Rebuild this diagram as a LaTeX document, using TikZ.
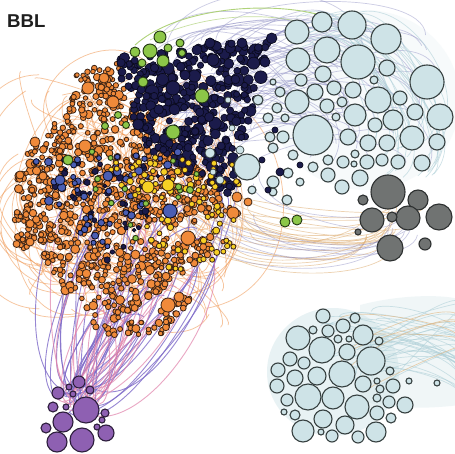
\documentclass[tikz,border=0pt]{standalone}
\usepackage{fontspec}
\setmainfont{Liberation Sans}
\definecolor{ocol}{RGB}{240,138,58}
\definecolor{odraw}{RGB}{60,35,20}
\definecolor{ncol}{RGB}{27,27,75}
\definecolor{ndraw}{RGB}{10,10,30}
\definecolor{lbcol}{RGB}{206,227,231}
\definecolor{lbdraw}{RGB}{55,65,65}
\definecolor{gcol}{RGB}{112,115,114}
\definecolor{gdraw}{RGB}{45,48,48}
\definecolor{pcol}{RGB}{142,96,178}
\definecolor{pdraw}{RGB}{45,30,60}
\definecolor{grcol}{RGB}{140,198,72}
\definecolor{grdraw}{RGB}{35,55,20}
\definecolor{ycol}{RGB}{246,208,36}
\definecolor{bcol}{RGB}{74,94,180}
\definecolor{ecorange}{RGB}{240,150,80}
\definecolor{ecviolet}{RGB}{125,105,200}
\definecolor{ecpink}{RGB}{225,130,170}
\definecolor{eclav}{RGB}{140,140,195}
\definecolor{eclb}{RGB}{175,208,216}
\definecolor{ectan}{RGB}{225,180,125}
\definecolor{ecgreen}{RGB}{175,210,120}
\tikzset{
  oc/.style={fill=ocol,draw=odraw,line width=0.8pt},
  nc/.style={fill=ncol,draw=ndraw,line width=0.7pt},
  lbc/.style={fill=lbcol,draw=lbdraw,line width=1.1pt},
  gc/.style={fill=gcol,draw=gdraw,line width=1.1pt},
  pc/.style={fill=pcol,draw=pdraw,line width=1.1pt},
  grc/.style={fill=grcol,draw=grdraw,line width=0.9pt},
  yc/.style={fill=ycol,draw=odraw,line width=0.8pt},
  bc/.style={fill=bcol,draw=ndraw,line width=0.8pt},
  oe/.style={draw=ecorange,opacity=0.55,line width=0.75pt},
  ve/.style={draw=ecviolet,opacity=0.8,line width=0.9pt},
  pe/.style={draw=ecpink,opacity=0.7,line width=0.9pt},
  le/.style={draw=eclav,opacity=0.45,line width=0.7pt},
  lbe/.style={draw=eclb,opacity=0.6,line width=0.7pt},
  te/.style={draw=ectan,opacity=0.6,line width=0.7pt},
}
\def\rmin{1.5}
\newcommand\scat[9]{%
 \foreach \i in {1,...,#1}{%
  \pgfmathsetmacro\su{rnd}\pgfmathsetmacro\sv{rnd}%
  \pgfmathsetmacro\sw{(\su+\sv>1)}%
  \pgfmathsetmacro\suu{\su+\sw*(1-2*\su)}%
  \pgfmathsetmacro\svv{\sv+\sw*(1-2*\sv)}%
  \pgfmathsetmacro\px{#4+\suu*(#6-#4)+\svv*(#8-#4)}%
  \pgfmathsetmacro\py{#5+\suu*(#7-#5)+\svv*(#9-#5)}%
  \pgfmathsetmacro\rr{\rmin+(#3-\rmin)*rnd*rnd}%
  \path[#2] (\px,\py) circle[radius=\rr pt];%
 }}
\newcommand\arcedge[6]{%
 \pgfmathsetmacro\ax{#2}\pgfmathsetmacro\ay{#3}%
 \pgfmathsetmacro\bx{#4}\pgfmathsetmacro\by{#5}%
 \pgfmathsetmacro\kk{#6}%
 \pgfmathsetmacro\pax{\ax-(\kk)*(\by-\ay)}\pgfmathsetmacro\pay{\ay+(\kk)*(\bx-\ax)}%
 \pgfmathsetmacro\pbx{\bx-(\kk)*(\by-\ay)}\pgfmathsetmacro\pby{\by+(\kk)*(\bx-\ax)}%
 \draw[#1] (\ax,\ay) .. controls (\pax,\pay) and (\pbx,\pby) .. (\bx,\by);}
\begin{document}
\begin{tikzpicture}[x=1pt,y=-1pt]
\useasboundingbox (0,0) rectangle (455,454);
\fill[white] (0,0) rectangle (455,454);
\pgfmathsetseed{1234}
% ---------- background hazes
\fill[lbcol,opacity=0.3] (360,305) .. controls (410,292) and (455,296) .. (460,300) -- (460,405) .. controls (420,410) and (380,408) .. (360,400) -- cycle;
\fill[lbcol,opacity=0.45] (333,372) ellipse[x radius=66pt,y radius=64pt];
\fill[lbcol,opacity=0.15] (365,100) ellipse[x radius=95pt,y radius=90pt];
% ---------- edges
\foreach \i in {1,...,140}{\arcedge{oe}{20+210*rnd}{70+240*rnd}{20+210*rnd}{70+260*rnd}{0.6*rand}}
\foreach \i in {1,...,25}{\arcedge{oe}{15+60*rnd}{150+110*rnd}{30+80*rnd}{170+120*rnd}{0.5+0.3*rnd}}
\foreach \i in {1,...,38}{\arcedge{ve}{55+45*rnd}{385+30*rnd}{80+150*rnd}{150+170*rnd}{0.35*rand}}
\foreach \i in {1,...,26}{\arcedge{pe}{55+45*rnd}{385+30*rnd}{70+130*rnd}{170+150*rnd}{0.35*rand}}
\foreach \i in {1,...,70}{\arcedge{le}{150+110*rnd}{40+140*rnd}{290+150*rnd}{20+150*rnd}{-0.1-0.3*rnd}}
\foreach \i in {1,...,30}{\arcedge{lbe}{295+60*rnd}{15+40*rnd}{360+80*rnd}{130+50*rnd}{-0.2-0.3*rnd}}
\foreach \i in {1,...,22}{\arcedge{te}{170+90*rnd}{170+70*rnd}{365+60*rnd}{195+45*rnd}{0.1+0.2*rnd}}
\foreach \i in {1,...,10}{\arcedge{le}{170+90*rnd}{170+70*rnd}{365+60*rnd}{195+45*rnd}{0.1+0.2*rnd}}
\foreach \i in {1,...,35}{\arcedge{lbe}{320+60*rnd}{310+90*rnd}{460}{300+100*rnd}{-0.25*rnd}}
\foreach \i in {1,...,6}{\arcedge{te}{330+50*rnd}{320+70*rnd}{460}{300+60*rnd}{-0.2*rnd}}
\draw[ecgreen,line width=0.9pt] (135,45) .. controls (180,5) and (280,0) .. (330,18);
\draw[ecgreen,line width=0.7pt,opacity=0.7] (150,40) .. controls (200,15) and (260,12) .. (300,22);
% ---------- orange cluster
\def\rmin{2.2}
\scat{380}{oc}{5}{100}{60}{15}{170}{240}{215}
\scat{260}{oc}{5}{15}{170}{15}{250}{240}{215}
\scat{250}{oc}{5}{30}{245}{100}{335}{235}{235}
\scat{45}{oc}{4.5}{100}{335}{160}{335}{200}{290}
\scat{35}{oc}{4.5}{75}{75}{130}{60}{110}{120}
\foreach \x/\y/\r in {88/88/6,113/102/6,85/146/6,104/78/5,35/142/5,188/238/7,168/305/7,179/297/5,237/197/5,248/202/4,233/213/6,20/175/4,30/242/4,150/270/4.5,120/300/4.5}
  \path[oc] (\x,\y) circle[radius=\r pt];
% ---------- navy cluster
\def\rmin{3}
\scat{280}{nc}{7}{115}{55}{272}{38}{230}{195}
\scat{80}{nc}{6}{115}{55}{230}{195}{140}{145}
\foreach \x/\y/\r in {173/88/7,210/43/5,213/60/6,185/75/5,122/72/4,197/50/5,242/43/5,265/62/5,237/183/4}
  \path[nc] (\x,\y) circle[radius=\r pt];
% ---------- mixed
\def\rmin{1.8}
\scat{40}{nc}{3.8}{20}{150}{200}{160}{110}{270}
\def\rmin{2.4}
\scat{50}{bc}{4.5}{15}{160}{180}{150}{100}{265}
\scat{60}{yc}{3.8}{100}{150}{240}{165}{170}{275}
\scat{25}{yc}{3.8}{170}{275}{240}{165}{235}{255}
\scat{14}{grc}{3.2}{60}{140}{230}{170}{130}{260}
\foreach \x/\y/\r in {148/187/6,168/185/6}
  \path[yc] (\x,\y) circle[radius=\r pt];
\foreach \x/\y/\r in {170/211/7,60/180/5,108/176/5}
  \path[bc] (\x,\y) circle[radius=\r pt];
% ---------- green
\foreach \x/\y/\r in {160/37/6,135/52/5,150/51/7,163/61/6,168/48/4,180/43/4,182/53/3.5,142/63/4,143/82/5,202/96/7,173/132/7,68/160/5,118/115/3.5,126/125/3.5,105/126/3.5,285/222/5,297/220/5,190/190/3.5}
  \path[grc] (\x,\y) circle[radius=\r pt];
% ---------- light blue small inside navy
\foreach \x/\y/\r in {210/153/5,220/180/4,213/172/3,232/128/3,240/150/4,228/100/3}
  \path[lbc,line width=0.7pt] (\x,\y) circle[radius=\r pt];
% ---------- light blue top cluster
\foreach \x/\y/\r in {297/32/12,322/22/10,352/25/14,386/39/15,327/50/13,358/62/17,298/60/12,387/68/8,427/82/17,323/74/8,301/80/6,374/80/4,315/92/8,334/88/7,353/90/8,297/102/12,327/106/7,342/102/5,378/100/13,400/98/7,415/112/8,440/117/13,355/115/11,336/117/4,393/120/10,313/135/20,348/137/8,368/143/8,387/143/8,412/138/12,437/142/8,375/125/7,247/167/13,283/137/6,277/108/5,268/118/5,258/100/5,273/82/3,293/155/5,313/167/5,328/160/5,343/162/6,355/154/4,354/164/3,367/162/7,382/160/6,398/162/7,422/163/8,328/175/7,342/187/7,360/178/8,288/173/5,273/182/6,300/182/4,273/192/4,287/200/5,252/190/4,270/137/5,273/148/5,285/118/4,280/92/5}
  \path[lbc] (\x,\y) circle[radius=\r pt];
\foreach \x/\y/\r in {300/165/3,280/172/4,268/190/3,262/160/3,275/130/3}
  \path[nc] (\x,\y) circle[radius=\r pt];
% ---------- grey cluster
\foreach \x/\y/\r in {388/192/17,418/200/10,439/217/13,408/218/12,372/220/12,392/217/5,363/200/5,390/248/13,425/244/6,358/232/3}
  \path[gc] (\x,\y) circle[radius=\r pt];
% ---------- purple cluster
\foreach \x/\y/\r in {79/382/6,58/393/6,69/387/3,73/394/3,90/390/4,86/410/13,53/407/5,66/407/3,63/422/10,105/413/4,102/420/3,46/428/5,97/427/3,106/433/8,57/442/10,82/440/12}
  \path[pc] (\x,\y) circle[radius=\r pt];
% ---------- bottom light blue cluster
\foreach \x/\y/\r in {323/316/7,355/318/5,298/338/12,313/330/4,328/331/6,343/326/7,363/335/10,338/339/4,349/339/3,379/341/4,322/350/13,347/352/8,371/361/14,290/359/7,304/363/6,278/370/7,295/378/8,317/376/9,342/374/13,390/371/4,277/386/7,308/397/13,333/398/11,363/384/8,377/381/3,380/389/4,393/386/7,409/381/3,437/383/3,287/400/6,357/407/12,377/398/4,389/402/6,405/405/8,284/412/3,295/415/5,323/419/9,345/425/9,377/413/7,391/418/5,303/431/11,321/432/3,332/436/6,358/437/6,376/432/10}
  \path[lbc] (\x,\y) circle[radius=\r pt];
% ---------- title
\node[font=\bfseries\fontsize{18.6}{20}\selectfont,anchor=base west,inner sep=0pt,text=black!88] (title) at (7,28) {BBL};
\end{tikzpicture}
\end{document}
